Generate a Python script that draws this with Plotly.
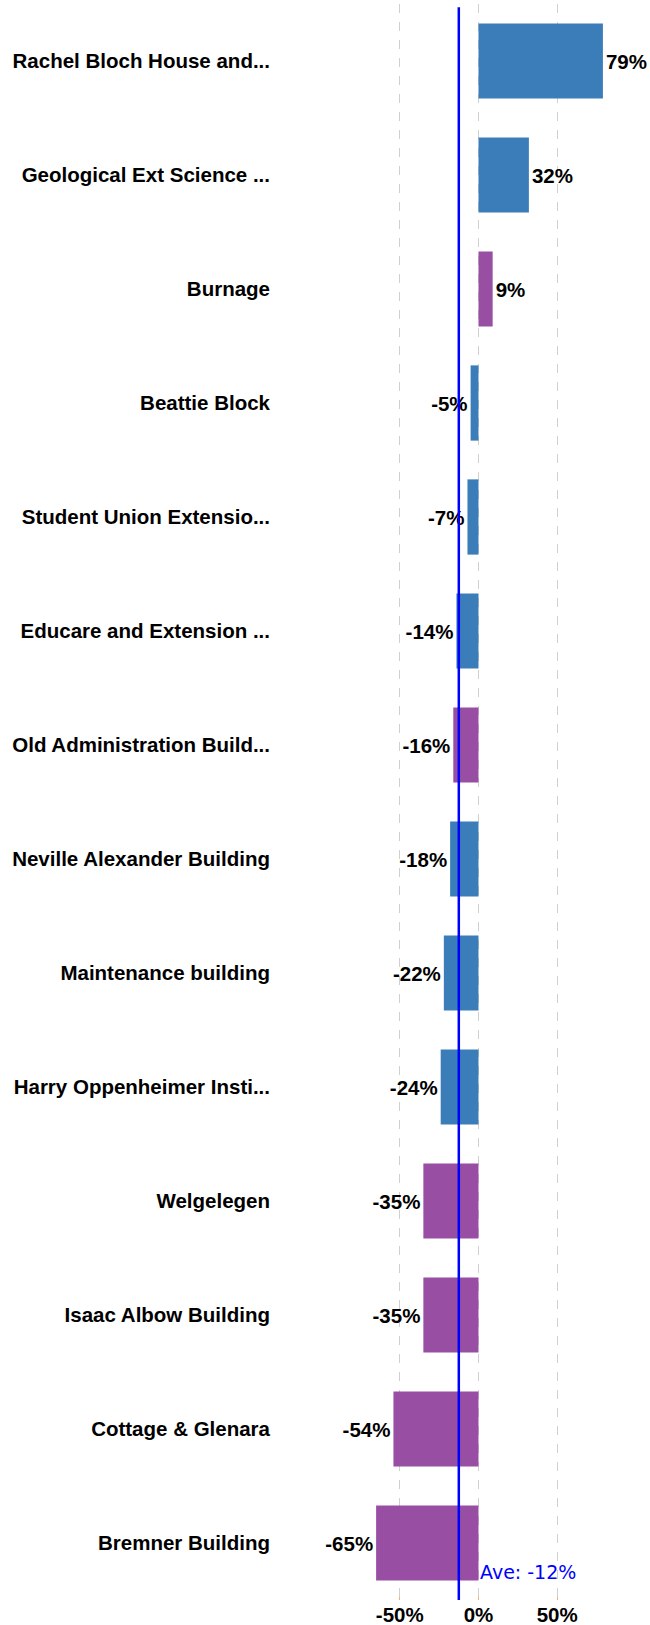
import plotly.graph_objects as go

buildings = [
    "Rachel Bloch House and...",
    "Geological Ext Science ...",
    "Burnage",
    "Beattie Block",
    "Student Union Extensio...",
    "Educare and Extension ...",
    "Old Administration Build...",
    "Neville Alexander Building",
    "Maintenance building",
    "Harry Oppenheimer Insti...",
    "Welgelegen",
    "Isaac Albow Building",
    "Cottage & Glenara",
    "Bremner Building",
]
changes = [79, 32, 9, -5, -7, -14, -16, -18, -22, -24, -35, -35, -54, -65]
groups = ["a", "a", "b", "a", "a", "a", "b", "a", "a", "a", "b", "b", "b", "b"]
group_colors = {"a": "#3a7db8", "b": "#984ea3"}
x_ticks = [-50, 0, 50]
x_tick_labels = ["-50%", "0%", "50%"]

average = sum(changes) / len(changes)

BOLD = dict(family="Liberation Sans, Arial, sans-serif", size=20.5, color="black", weight="bold")

fig = go.Figure()
fig.add_trace(go.Bar(
    y=buildings,
    x=changes,
    orientation="h",
    marker=dict(color=[group_colors[g] for g in groups], line=dict(width=0)),
    text=[f"{v:.0f}%" for v in changes],
    textposition="outside",
    textfont=BOLD,
    cliponaxis=False,
    hoverinfo="skip",
))

fig.add_shape(
    type="line", xref="x", yref="paper",
    x0=average, x1=average, y0=0, y1=0.998,
    line=dict(color="#0000ff", width=2.5),
)
fig.add_annotation(
    x=0, xref="x", y=0.0175, yref="paper",
    xanchor="left", yanchor="middle",
    text="Ave: %d%%" % int(average),
    showarrow=False,
    font=dict(family="DejaVu Sans, Verdana, sans-serif", size=19, color="#0000ff"),
)

fig.update_layout(
    template="none",
    width=650, height=1625,
    margin=dict(l=275, r=0, t=4, b=25, autoexpand=False),
    plot_bgcolor="white", paper_bgcolor="white",
    bargap=0.34,
    showlegend=False,
    hovermode=False,
    font=dict(family="Liberation Sans, Arial, sans-serif", size=20, color="black"),
)
fig.update_xaxes(
    automargin=False,
    range=[-129.2, 108.9],
    tickvals=x_ticks, ticktext=x_tick_labels,
    tickfont=BOLD,
    showgrid=True, gridcolor="#d0d0d0", griddash="dash", gridwidth=1,
    zeroline=False, showline=False,
    ticks="inside", ticklen=3, tickcolor="#f5b070",
)
fig.update_yaxes(
    automargin=False,
    type="category",
    categoryorder="array", categoryarray=buildings,
    autorange="reversed",
    tickfont=BOLD,
    showgrid=False, zeroline=False, showline=False,
    ticks="", ticklabelstandoff=4,
)

fig.write_html(
    "out.html",
    config={"displayModeBar": False},
    post_script="document.body.style.margin='0';document.body.style.overflow='hidden';",
)
